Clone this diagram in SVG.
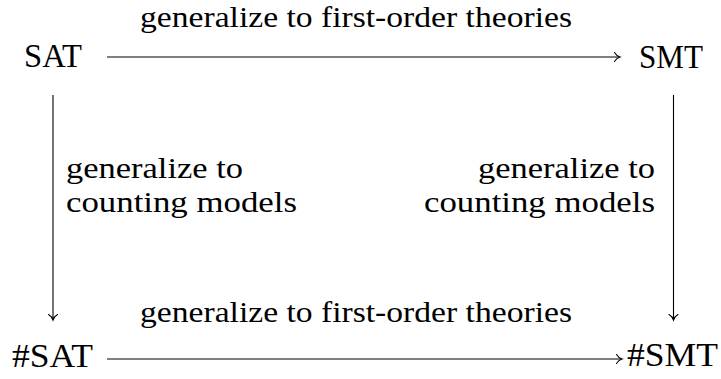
<svg xmlns="http://www.w3.org/2000/svg" width="721" height="379" viewBox="0 0 721 379" font-family="Liberation Serif, serif">
<defs>
<style>
.n{font-size:33.5px;fill:#000}
.l{font-size:30px;fill:#000}
.ln{stroke:#000;stroke-width:1.1;fill:none}
.hd{stroke:#000;stroke-width:1.1;fill:none;stroke-linecap:round}
</style>
</defs>
<rect width="721" height="379" fill="#fff"/>
<g id="connectors">
<g id="e-sat-smt">
<line class="ln" x1="107" y1="57" x2="619.5" y2="57"/>
<path class="hd" d="M614.5,52.5 Q616.5,56 620,57 Q616.5,58 614.5,61.5"/>
<text class="l" x="140" y="26.5" textLength="432" lengthAdjust="spacingAndGlyphs">generalize to first-order theories</text>
</g>
<g id="e-sat-nsat">
<line class="ln" x1="53" y1="95" x2="53" y2="319.5"/>
<path class="hd" d="M48.5,314.5 Q52,316.5 53,320 Q54,316.5 57.5,314.5"/>
<text class="l" x="66" y="178" textLength="177" lengthAdjust="spacingAndGlyphs">generalize to</text>
<text class="l" x="66" y="211.5" textLength="231" lengthAdjust="spacingAndGlyphs">counting models</text>
</g>
<g id="e-smt-nsmt">
<line class="ln" x1="673.5" y1="95" x2="673.5" y2="319.5"/>
<path class="hd" d="M669,314.5 Q672.5,316.5 673.5,320 Q674.5,316.5 678,314.5"/>
<text class="l" x="478" y="178" textLength="177" lengthAdjust="spacingAndGlyphs">generalize to</text>
<text class="l" x="424" y="211.5" textLength="231" lengthAdjust="spacingAndGlyphs">counting models</text>
</g>
<g id="e-nsat-nsmt">
<line class="ln" x1="107" y1="359" x2="621.5" y2="359"/>
<path class="hd" d="M616.5,354.5 Q618.5,358 622,359 Q618.5,360 616.5,363.5"/>
<text class="l" x="140" y="322" textLength="432" lengthAdjust="spacingAndGlyphs">generalize to first-order theories</text>
</g>
</g>
<g id="sat"><text class="n" x="24" y="67" textLength="58" lengthAdjust="spacingAndGlyphs">SAT</text></g>
<g id="smt"><text class="n" x="639" y="68" textLength="64" lengthAdjust="spacingAndGlyphs">SMT</text></g>
<g id="nsat"><text class="n" x="12" y="367" textLength="81" lengthAdjust="spacingAndGlyphs">#SAT</text></g>
<g id="nsmt"><text class="n" x="627" y="366" textLength="91" lengthAdjust="spacingAndGlyphs">#SMT</text></g>
</svg>
